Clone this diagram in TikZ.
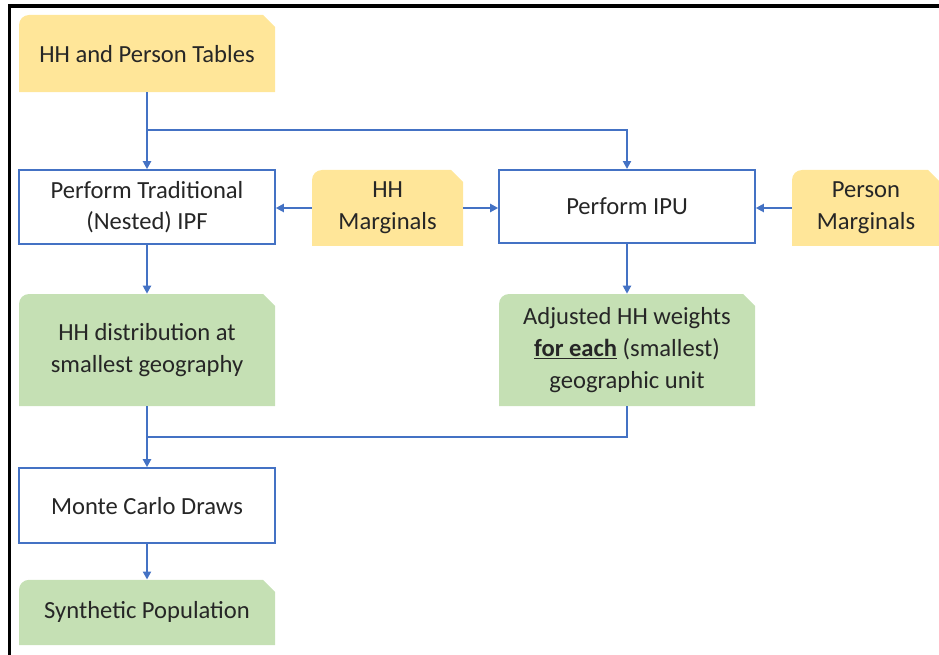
\documentclass[tikz,border=0pt]{standalone}
\usepackage{fontspec}
\setmainfont{Carlito}
\usetikzlibrary{arrows.meta, positioning, calc}
\definecolor{flowblue}{RGB}{68,114,196}
\definecolor{inyellow}{RGB}{255,230,153}
\definecolor{outgreen}{RGB}{197,224,180}
\definecolor{textgray}{RGB}{38,38,38}

\begin{document}
\begin{tikzpicture}[
    >=Stealth,
    every node/.style={font=\fontsize{17.5}{22.5}\selectfont, text=textgray, align=center},
    snipbox/.style={minimum width=6.4cm, minimum height=1.9cm, inner sep=0pt,
        path picture={\fill[#1] (path picture bounding box.south west)
            -- ([yshift=-0.25cm]path picture bounding box.north west)
            arc[start angle=180, end angle=90, radius=0.25cm]
            -- ([xshift=-0.3cm]path picture bounding box.north east)
            -- ([yshift=-0.3cm]path picture bounding box.north east)
            -- (path picture bounding box.south east) -- cycle;}},
    inputbox/.style={snipbox=inyellow},
    outputbox/.style={snipbox=outgreen},
    stepbox/.style={draw=flowblue, line width=1.1pt, fill=white,
        minimum width=6.4cm, minimum height=1.85cm, inner sep=0pt},
    flowline/.style={flowblue, line width=1.6pt},
    flow/.style={flowline, -{Triangle[length=0.2cm, width=0.2cm]}},
]
\useasboundingbox (0,0) rectangle (23.475,-16.375);

% frame
\draw[line width=2.5pt] (0.2375,-16.4) -- (0.2375,-0.15) -- (23.5,-0.15);

% === INPUTS ===
\node[inputbox, minimum height=1.93cm] (tables) at (3.675,-1.34) {HH and Person Tables};
\node[inputbox, minimum width=3.78cm] (hhmarg) at (9.69,-5.2) {HH\\Marginals};
\node[inputbox, minimum width=3.7cm] (permarg) at (21.65,-5.2) {Person\\Marginals};

% === STEPS ===
\node[stepbox] (ipf) at (3.675,-5.175) {Perform Traditional\\(Nested) IPF};
\node[stepbox, minimum height=1.83cm] (ipu) at (15.675,-5.16) {Perform IPU};
\node[stepbox, minimum height=1.88cm] (mc) at (3.675,-12.64) {Monte Carlo Draws};

% === OUTPUTS ===
\node[outputbox, minimum height=2.8cm] (hhdist) at (3.675,-8.75)
    {HH distribution at\\smallest geography};
\node[outputbox, minimum height=2.8cm] (adjw) at (15.675,-8.75)
    {Adjusted HH weights\\\underline{\textbf{for each}} (smallest)\\geographic unit};
\node[outputbox, minimum height=1.63cm] (synpop) at (3.675,-15.31) {Synthetic Population};

% === CONNECTORS ===
\coordinate (split) at (3.675,-3.25);
\coordinate (join) at (3.675,-10.925);

\draw[flow] (tables) -- (ipf);
\draw[flow] (split) -| (ipu);
\draw[flow] (hhmarg.west) -- (ipf.east |- hhmarg.west);
\draw[flow] (hhmarg.east) -- (ipu.west |- hhmarg.east);
\draw[flow] (permarg.west) -- (ipu.east |- permarg.west);
\draw[flow] (ipf) -- (hhdist);
\draw[flow] (ipu) -- (adjw);
\draw[flow] (hhdist) -- (mc);
\draw[flowline] (adjw.south) |- (join);
\draw[flow] (mc) -- (synpop);

\end{tikzpicture}
\end{document}
